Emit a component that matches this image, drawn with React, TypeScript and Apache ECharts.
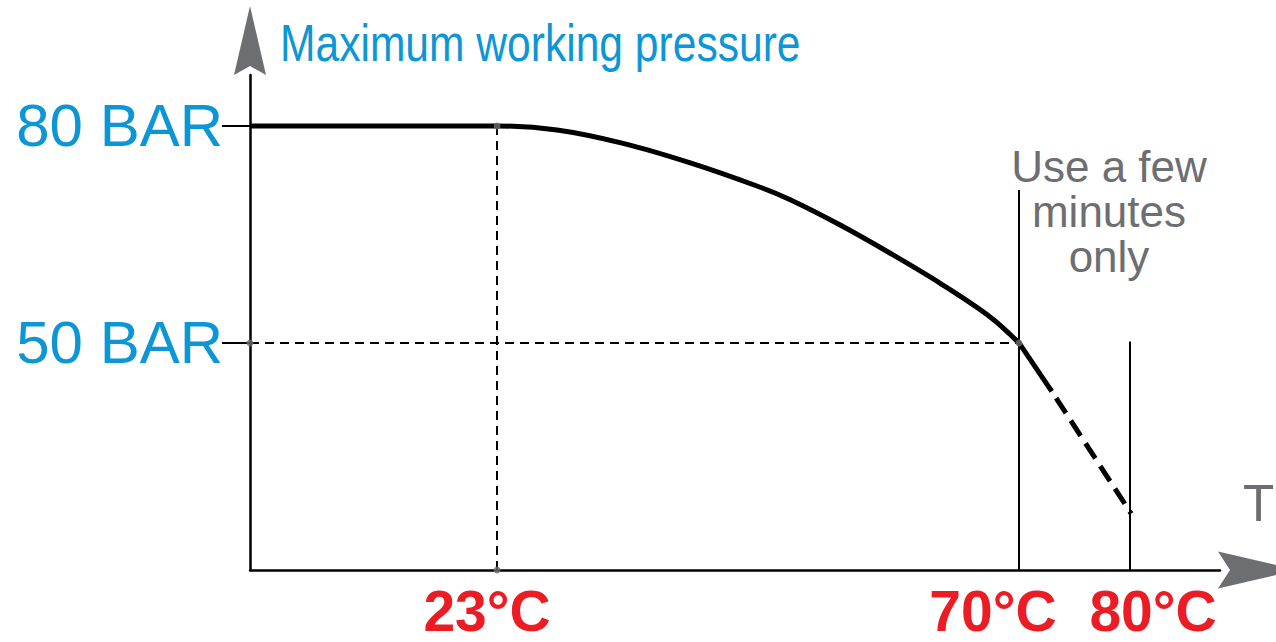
import React, { useEffect, useRef } from "react";
import * as echarts from "echarts";

// ---- data ----
const X_MIN = 0.75;
const X_MAX = 88.1;
const Y_MIN = 18.6;
const Y_MAX = 87.05;

const curveTempC = [X_MIN, 23, 28.4, 34.35, 40.4, 46.4, 49.4, 53.9, 58.4, 62.9, 67.4, 70];
const curveBar = [80, 80, 79.45, 77.6, 74.9, 71.7, 69.8, 66.3, 62.4, 58.25, 53.6, 50];

const overSolidTempC = [70, 72.95];
const overSolidBar = [50, 43.3];
const overDashTempC = [72.95, 80.1];
const overDashBar = [43.3, 26.4];

const xTickValues = [23, 70, 80];
const xTickLabels = ["23°C", "70°C", "80°C"];
const yTickValues = [80, 50];
const yTickLabels = ["80 BAR", "50 BAR"];

const guideDotTempC = [23, X_MIN, 23, 70];
const guideDotBar = [80, 50, Y_MIN, 50];

const limit70TopBar = 71.15;
const limit80TopBar = 50.2;

const BLUE = "#0d96d6";
const RED = "#ec1c24";
const GREY = "#6d6e71";
const FONT = '"Liberation Sans", Arial, sans-serif';

const GRID = { left: 250, top: 75, right: 56, bottom: 72 };
// padding [top, right, bottom, left] used to nudge each x label sideways
const X_LABEL_PAD = [
  [0, 20, 0, 0],
  [0, 52, 0, 0],
  [0, 0, 0, 46],
];

export default function App() {
  const ref = useRef<HTMLDivElement>(null);

  useEffect(() => {
    if (!ref.current) return;
    const chart = echarts.init(ref.current, null, { renderer: "svg" });

    const zip = (xs: number[], ys: number[]) => xs.map((x, i) => [x, ys[i]]);

    const guideStyle = { type: [9, 6], color: "#000", width: 2 };
    const limitStyle = { type: "solid", color: "#000", width: 2 };

    const rich: Record<string, any> = {};
    X_LABEL_PAD.forEach((pad, i) => {
      rich["r" + i] = {
        fontSize: 57,
        lineHeight: 46,
        fontWeight: "bold",
        fontFamily: FONT,
        color: RED,
        padding: pad,
      };
    });

    const H = 642;
    const axisY = H - GRID.bottom;

    chart.setOption({
      animation: false,
      grid: { ...GRID, containLabel: false, outerBoundsMode: "none" },
      xAxis: {
        type: "value",
        min: X_MIN,
        max: X_MAX,
        axisLine: { show: true, lineStyle: { color: "#000", width: 2.5 } },
        axisTick: { show: false },
        splitLine: { show: false },
        axisLabel: { show: false },
      },
      yAxis: {
        type: "value",
        min: Y_MIN,
        max: Y_MAX,
        axisLine: { show: true, lineStyle: { color: "#000", width: 2.5 } },
        axisTick: {
          show: true,
          customValues: yTickValues,
          length: 28,
          lineStyle: { color: "#000", width: 2 },
        },
        splitLine: { show: false },
        axisLabel: {
          customValues: yTickValues,
          margin: 27,
          fontSize: 60,
          fontFamily: FONT,
          color: BLUE,
          formatter: (v: number) => {
            const i = yTickValues.indexOf(v);
            return i < 0 ? "" : yTickLabels[i];
          },
        },
      },
      series: [
        {
          type: "line",
          data: zip(curveTempC, curveBar),
          smooth: 0.35,
          symbol: "none",
          lineStyle: { color: "#000", width: 5 },
          z: 5,
          markLine: {
            silent: true,
            symbol: ["none", "none"],
            label: { show: false },
            data: [
              [
                { coord: [X_MIN, 50], lineStyle: guideStyle },
                { coord: [70, 50] },
              ],
              [
                { coord: [23, Y_MIN], lineStyle: guideStyle },
                { coord: [23, 80] },
              ],
              [
                { coord: [70, Y_MIN], lineStyle: limitStyle },
                { coord: [70, limit70TopBar] },
              ],
              [
                { coord: [80, Y_MIN], lineStyle: limitStyle },
                { coord: [80, limit80TopBar] },
              ],
            ],
          },
        },
        {
          type: "line",
          data: zip(overSolidTempC, overSolidBar),
          symbol: "none",
          lineStyle: { color: "#000", width: 5 },
          z: 5,
        },
        {
          type: "line",
          data: zip(overDashTempC, overDashBar),
          symbol: "none",
          lineStyle: { color: "#000", width: 5, type: [18, 9], dashOffset: -8 },
          z: 5,
        },
        {
          type: "scatter",
          data: zip(guideDotTempC, guideDotBar),
          symbol: "circle",
          symbolSize: 7,
          itemStyle: { color: GREY },
          z: 6,
          silent: true,
          clip: false,
        },
        {
          type: "scatter",
          silent: true,
          clip: false,
          symbolSize: 1,
          itemStyle: { opacity: 0 },
          z: 7,
          data: xTickValues.map((v, i) => ({
            value: [v, Y_MIN],
            name: xTickLabels[i],
          })),
          label: {
            show: true,
            position: "bottom",
            distance: 17,
            formatter: (p: any) => `{r${p.dataIndex}|${p.name}}`,
            rich,
            opacity: 1,
          },
          labelLayout: { hideOverlap: false },
        },
      ],
      graphic: [
        {
          type: "polygon",
          shape: {
            points: [
              [GRID.left, 6],
              [GRID.left + 16, 75],
              [GRID.left, 66],
              [GRID.left - 16, 75],
            ],
          },
          style: { fill: GREY },
          z: 10,
        },
        {
          type: "polygon",
          shape: {
            points: [
              [1298, axisY],
              [1218, axisY - 18.5],
              [1230, axisY],
              [1218, axisY + 18.5],
            ],
          },
          style: { fill: GREY },
          z: 10,
        },
        {
          type: "text",
          x: 280,
          y: 43.5,
          scaleX: 0.835,
          style: {
            text: "Maximum working pressure",
            fontSize: 51,
            fontFamily: FONT,
            fill: BLUE,
            align: "left",
            verticalAlign: "middle",
          },
          z: 10,
        },
        {
          type: "text",
          x: 1109,
          y: 144,
          style: {
            text: "Use a few\nminutes\nonly",
            fontSize: 44,
            lineHeight: 45,
            fontFamily: FONT,
            fill: GREY,
            align: "center",
            verticalAlign: "top",
          },
          z: 10,
        },
        {
          type: "text",
          x: 1243,
          y: 503.5,
          style: {
            text: "T°C",
            fontSize: 51,
            fontFamily: FONT,
            fill: GREY,
            align: "left",
            verticalAlign: "middle",
          },
          z: 10,
        },
      ],
    });

    return () => chart.dispose();
  }, []);

  return (
    <div
      ref={ref}
      style={{ position: "fixed", left: 0, top: 0, width: 1276, height: 642, background: "#fff" }}
    />
  );
}
